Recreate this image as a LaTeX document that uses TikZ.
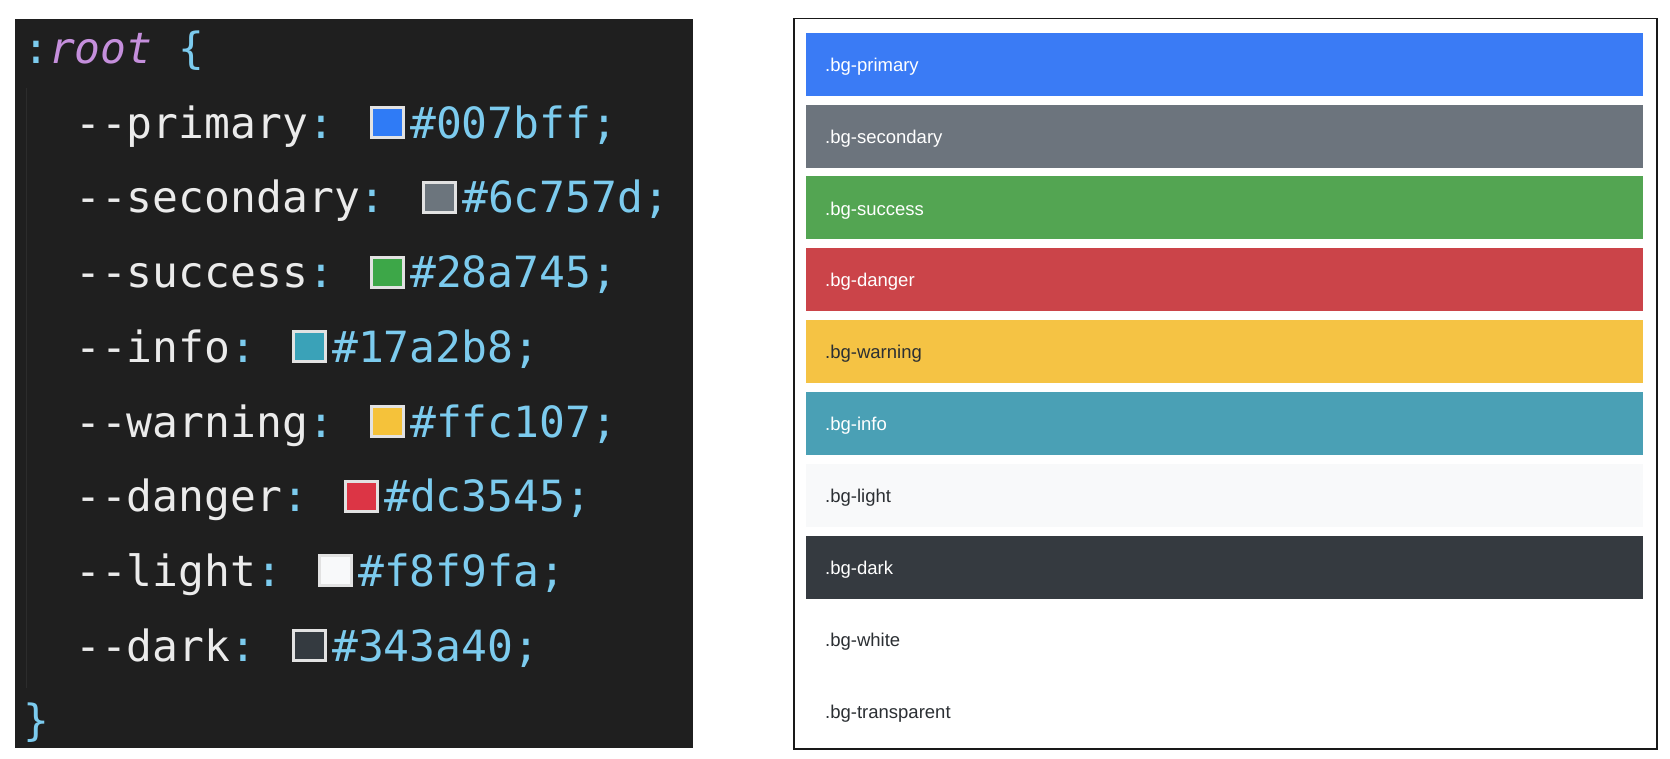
\documentclass[tikz,border=0pt]{standalone}
\usepackage{fontspec}
\setmainfont{Liberation Sans}
\newfontfamily\codefont[Ligatures=TeXOff]{DejaVu Sans Mono}
\definecolor{codebg}{HTML}{1F1F1F}
\definecolor{codeguide}{HTML}{2C2C2C}
\definecolor{codewhite}{HTML}{EBEBEB}
\definecolor{codeblue}{HTML}{7CCBEE}
\definecolor{codepurple}{HTML}{C58FDC}
\definecolor{swborder}{HTML}{E2E2E2}
\definecolor{swprimary}{HTML}{2F7BF6}
\definecolor{swsecondary}{HTML}{6C757D}
\definecolor{swsuccess}{HTML}{3DA748}
\definecolor{swinfo}{HTML}{3AA2B8}
\definecolor{swwarning}{HTML}{F5C23A}
\definecolor{swdanger}{HTML}{DC3545}
\definecolor{swlight}{HTML}{F8F9FA}
\definecolor{swdark}{HTML}{343A40}
\definecolor{bgprimary}{HTML}{3A7BF5}
\definecolor{bgsecondary}{HTML}{6C747D}
\definecolor{bgsuccess}{HTML}{53A552}
\definecolor{bgdanger}{HTML}{CB4449}
\definecolor{bgwarning}{HTML}{F5C344}
\definecolor{bginfo}{HTML}{4AA0B5}
\definecolor{bglight}{HTML}{F8F9FA}
\definecolor{bgdark}{HTML}{353A40}
\definecolor{bgwhite}{HTML}{FFFFFF}
\definecolor{bgtransparent}{HTML}{FFFFFF}
\definecolor{bartextdark}{HTML}{2B2F33}
\tikzset{
  codetext/.style={inner sep=0pt, anchor=base west, font=\codefont\fontsize{43}{43}\selectfont},
  swatch/.style={draw=swborder, line width=3pt, minimum width=32pt, minimum height=30pt, inner sep=0pt},
  barbox/.style={inner sep=0pt, minimum width=837pt, minimum height=63pt},
  bartext/.style={inner sep=0pt, anchor=base west, font=\fontsize{18.5}{18.5}\selectfont}
}
\begin{document}
\begin{tikzpicture}[x=1pt,y=-1pt]
\useasboundingbox[fill=white] (0,0) rectangle (1670,758);
% code panel
\fill[codebg] (15,19) rectangle (693,748);
\draw[codeguide, line width=1pt] (26,88) -- (26,688);
\node[codetext] (root) at (23,63.5) {\textcolor{codeblue}{:}\textcolor{codepurple}{\itshape root} \textcolor{codeblue}{\{}};
\foreach \n/\l/\h/\i in {primary/10/007bff/1, secondary/12/6c757d/2, success/10/28a745/3, info/7/17a2b8/4, warning/10/ffc107/5, danger/9/dc3545/6, light/8/f8f9fa/7, dark/7/343a40/8}{
  \pgfmathsetmacro\by{63.5+74.7*\i}
  \pgfmathsetmacro\sx{75+(\l+1)*26+9}
  \pgfmathsetmacro\hx{75+(\l+1)*26+49}
  \node[codetext] (p\n) at (75,\by) {\textcolor{codewhite}{-{}-\n}\textcolor{codeblue}{:}};
  \node[swatch, fill=sw\n] (s\n) at (\sx+17.5,\by-15.5) {};
  \node[codetext, text=codeblue] (h\n) at (\hx,\by) {\#\h;};
}
\node[codetext, text=codeblue] (close) at (23,735.5) {\}};
% utilities panel
\node[draw=black!90, line width=1.6pt, minimum width=863pt, minimum height=730.5pt, inner sep=0pt] (frame) at (1225.5,383.75) {};
\foreach \n/\tc/\i in {primary/white/0, secondary/white/1, success/white/2, danger/white/3, warning/bartextdark/4, info/white/5, light/bartextdark/6, dark/white/7, white/bartextdark/8, transparent/bartextdark/9}{
  \pgfmathsetmacro\ty{32.7+71.85*\i}
  \node[barbox, fill=bg\n] (bar\n) at (1224.5,\ty+31.5) {};
  \node[bartext, text=\tc] (lab\n) at (825,\ty+38.7) {.bg-\n};
}
\end{tikzpicture}
\end{document}
